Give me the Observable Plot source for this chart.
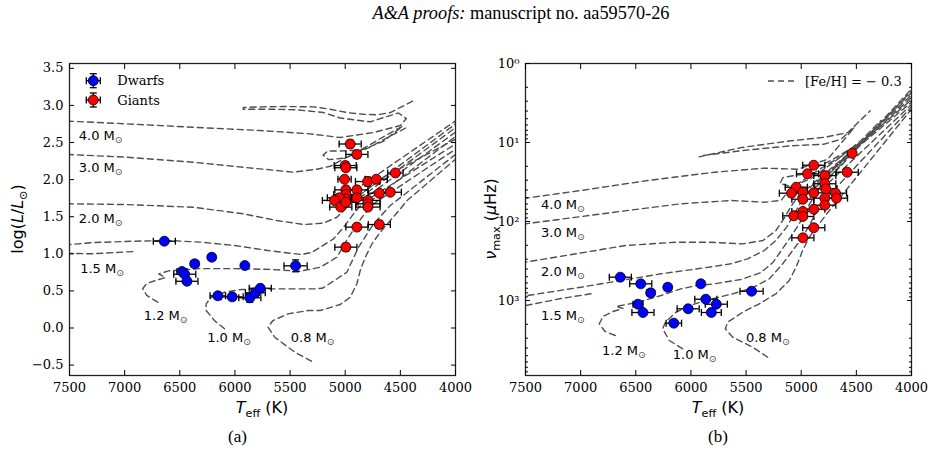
<!DOCTYPE html>
<html><head><meta charset="utf-8">
<script src="https://cdn.jsdelivr.net/npm/d3@7"></script>
<script src="https://cdn.jsdelivr.net/npm/@observablehq/plot@0.6"></script>
<style>
html,body{margin:0;padding:0;background:#fff;}
#page{position:relative;width:937px;height:455px;overflow:hidden;background:#fff;}
.title{position:absolute;top:3px;left:221px;width:600px;text-align:center;font-family:"Liberation Serif",serif;font-size:18.3px;line-height:20px;color:#000;white-space:nowrap;}
.cap{position:absolute;top:427px;font-family:"Liberation Serif",serif;font-size:17px;line-height:20px;color:#000;}
#left,#right{position:absolute;top:0;}
#left{left:0;} #right{left:468px;}
</style></head><body>
<div id="page">
  <div class="title"><i>A&amp;A proofs:</i> manuscript no. aa59570-26</div>
  <div id="left"></div><div id="right"></div>
  <div class="cap" style="left:228px">(a)</div>
  <div class="cap" style="left:708px">(b)</div>
</div>
<script>
// ---------------- data ----------------
const xTicks = [7500, 7000, 6500, 6000, 5500, 5000, 4500, 4000];
const yTicksL = [-0.5, 0, 0.5, 1, 1.5, 2, 2.5, 3, 3.5];
const yTicksR = [1, 10, 100, 1000];
const yTickLabelsR = ["10\u2070", "10\u00b9", "10\u00b2", "10\u00b3"];

// dwarfs (same stars in both panels)
const dwarfTeff    = [6640, 6210, 6365, 5910, 5450, 6480, 6455, 6435, 6155, 6025, 5865, 5815, 5770];
const dwarfTeffErr = [100, 30, 35, 15, 105, 45, 100, 100, 70, 100, 100, 90, 100];
const dwarfLogL    = [1.17, 0.954, 0.865, 0.842, 0.838, 0.761, 0.725, 0.63, 0.434, 0.42, 0.407, 0.474, 0.536];
const dwarfLogLErr = [0.02, 0.03, 0.03, 0.02, 0.08, 0.02, 0.03, 0.02, 0.02, 0.02, 0.06, 0.03, 0.03];
const dwarfNumax   = [507, 679, 800, 615, 763, 1114, 615, 1419, 1937, 1274, 963, 1419, 1114];

// giants, panel (a)
const giantTeffL    = [4955, 4894, 5000, 4994, 5006, 4797, 4718, 4545, 4994, 4894, 4994, 4994, 5052, 5097, 4894, 4691, 4591, 4794, 4794, 4794, 5040, 4994, 4894, 4691, 4994];
const giantTeffErrL = [100, 100, 100, 100, 60, 110, 100, 70, 100, 100, 110, 110, 110, 110, 100, 100, 100, 110, 110, 110, 100, 110, 100, 100, 100];
const giantLogL     = [2.48, 2.34, 2.19, 2.16, 2.005, 1.974, 2.005, 2.09, 1.862, 1.862, 1.80, 1.74, 1.755, 1.72, 1.755, 1.817, 1.83, 1.72, 1.674, 1.63, 1.63, 1.695, 1.36, 1.395, 1.09];
const giantLogLErr  = [0.05, 0.05, 0.05, 0.03, 0.03, 0.06, 0.03, 0.03, 0.03, 0.03, 0.03, 0.03, 0.03, 0.03, 0.03, 0.03, 0.03, 0.03, 0.03, 0.03, 0.03, 0.03, 0.03, 0.05, 0.05];

// giants, panel (b)
const giantTeffR    = [4538, 4886, 4943, 4786, 4583, 5045, 4786, 4777, 5088, 4985, 4886, 4985, 4786, 4689, 4680, 4786, 4886, 4985, 5067, 4985, 4886, 4985];
const giantTeffErrR = [0, 100, 100, 100, 100, 100, 100, 100, 110, 100, 100, 100, 100, 100, 100, 100, 100, 100, 100, 100, 100, 100];
const giantNumax    = [13.7, 19.4, 24.9, 26.2, 23.8, 36.8, 33.3, 38.6, 43.8, 42.6, 43.4, 52.2, 50.7, 43.8, 50.7, 62.2, 69.9, 74.7, 84.7, 86.4, 120, 161];

// evolutionary tracks, panel (a): [Teff, logL]
const trkL_08 = [[5306,-0.447],[5457,-0.326],[5639,-0.124],[5700,0.011],[5655,0.101],[5518,0.191],[5336,0.236],[5227,0.236],[5045,0.317],[4955,0.415],[4894,0.596],[4864,0.775],[4818,0.954],[4757,1.135],[4682,1.291],[4591,1.449],[4500,1.606],[4439,1.718],[4000,2.275]];
const trkL_10 = [[6094,-0.01],[6185,0.10],[6261,0.236],[6261,0.326],[6215,0.415],[6094,0.482],[5943,0.519],[5639,0.528],[5276,0.528],[5209,0.535],[5166,0.573],[4985,0.752],[4879,1.089],[4743,1.404],[4591,1.651],[4000,2.34]];
const trkL_12 = [[6700,0.348],[6800,0.44],[6836,0.53],[6800,0.60],[6700,0.65],[6630,0.68],[6690,0.73],[6600,0.77],[6318,0.80],[6000,0.80],[5682,0.79],[5409,0.765],[5227,0.819],[5075,0.954],[4970,1.224],[4848,1.493],[4743,1.674],[4000,2.41]];
const trkL_15 = [[6927,1.03],[7300,1.0],[7650,1.01],[7650,1.12],[7500,1.124],[7276,1.152],[6912,1.17],[6609,1.18],[6306,1.157],[6003,1.112],[5700,1.044],[5397,0.99],[5300,1.02],[5227,1.089],[5106,1.202],[5015,1.358],[4924,1.539],[4833,1.695],[4000,2.48]];
const trkL_20 = [[7700,1.68],[7500,1.674],[6985,1.664],[6379,1.628],[5924,1.539],[5621,1.449],[5379,1.395],[5197,1.413],[5075,1.493],[4985,1.628],[4894,1.763],[4773,1.898],[4652,2.032],[4000,2.545]];
const trkL_30 = [[7700,2.345],[7500,2.338],[6985,2.302],[6379,2.235],[5924,2.167],[5470,2.10],[5257,2.14],[5136,2.18],[5050,2.25],[4950,2.33],[4800,2.45],[4650,2.58],[4480,2.72],[4650,2.52],[4850,2.40],[5050,2.385],[5160,2.385],[5200,2.33],[5150,2.27],[5000,2.29],[4800,2.42],[4600,2.58],[4420,2.72]];
const trkL_40 = [[7700,2.80],[7500,2.787],[6985,2.752],[6379,2.706],[5773,2.662],[5318,2.617],[5045,2.567],[4745,2.635],[4500,2.729],[4445,2.823],[4518,2.898],[4652,2.837],[4773,2.779],[5045,2.83],[5197,2.904],[5439,2.941],[5682,2.949],[5924,2.949],[5924,2.972],[5745,2.981],[5564,2.985],[5291,2.981],[5136,2.949],[4985,2.904],[4833,2.881],[4712,2.873],[4591,2.904],[4470,2.995],[4364,3.075]];
const agbL_08 = [[4780,1.70],[4000,2.58]];
const agbL_10 = [[4850,1.72],[4000,2.64]];
const agbL_12 = [[4870,1.75],[4000,2.70]];
const agbL_15 = [[4880,1.78],[4000,2.75]];
const agbL_20 = [[4920,1.85],[4000,2.79]];

// evolutionary tracks, panel (b): [Teff, numax]
const trkR_08 = [[5304,5224],[5440,3899],[5621,2917],[5688,2281],[5667,1882],[5531,1406],[5380,1101],[5229,823],[5108,558],[5047,379],[4987,233],[4927,158],[4836,107],[4745,72.6],[4669,54.2],[4000,3.78]];
const trkR_10 = [[6075,4085],[6196,3208],[6256,2281],[6232,1882],[6135,1406],[5984,1124],[5803,951],[5621,823],[5440,690],[5289,531],[5168,343],[5077,233],[4987,158],[4911,102],[4839,65.9],[4775,51.2],[4000,3.55]];
const trkR_12 = [[6686,2775],[6779,2466],[6831,1972],[6797,1594],[6707,1377],[6616,1262],[6679,1191],[6589,1124],[6480,1051],[6271,864],[6090,711],[5939,646],[5788,615],[5546,542],[5365,442],[5256,330],[5174,226],[5093,155],[5011,103],[4948,68.4],[4884,48.3],[4000,3.31]];
const trkR_15 = [[6906,823],[7178,944],[7495,1156],[7631,1191],[7631,839],[7480,864],[6997,679],[6634,558],[6271,459],[5939,397],[5637,343],[5485,297],[5335,233],[5229,174],[5129,116],[5056,76.9],[4984,51.2],[4911,36.1],[4000,3.09]];
const trkR_20 = [[7631,345],[7500,327],[7042,256],[6589,201],[6135,183],[5833,183],[5531,192],[5347,174],[5229,130],[5156,91.6],[5093,64.6],[5029,48.3],[4000,2.88]];
const trkR_30 = [[7700,113],[7500,107],[6695,76.3],[6090,59.7],[5637,54.2],[5335,57.0],[5183,54.2],[5123,42.6],[5002,31.2],[4821,21.3],[4639,15.0],[4476,10.3],[4730,16.9],[5002,25.4],[5165,27.7],[5192,33.0],[5093,36.1],[4911,28.6],[4685,16.9],[4458,9.44],[4277,5.27]];
const trkR_40 = [[7700,53],[7500,50.7],[6997,40.5],[6392,30.3],[5788,23.8],[5335,21.1],[5032,21.8],[4760,16.3],[4519,6.46],[4639,9.08],[4791,10.5],[5093,11.0],[5546,12.7],[5909,14.7],[5924,15.2],[5546,11.6],[5093,9.5],[4791,8.6],[4579,7.5],[4374,3.97]];
const agbR_08 = [[4780,27],[4000,2.69]];
const agbR_10 = [[4850,32],[4000,2.51]];
const agbR_12 = [[4870,37],[4000,2.34]];
const agbR_15 = [[4880,45],[4000,2.21]];
const agbR_20 = [[4920,50],[4000,2.11]];

// mass labels
const massLabels = ["4.0 M\u2299", "3.0 M\u2299", "2.0 M\u2299", "1.5 M\u2299", "1.2 M\u2299", "1.0 M\u2299", "0.8 M\u2299"];
const massTeffL  = [7416, 7416, 7416, 7403, 6827, 6252, 5494];
const massLogL   = [2.594, 2.159, 1.471, 0.798, 0.168, -0.131, -0.131];
const massTeffR  = [7359, 7359, 7359, 7359, 6806, 6165, 5501];
const massNumax  = [61.5, 139, 438, 1549, 4295, 4865, 2965];

// ---------------- build tables ----------------
const tracksL = [];
[["0.8",trkL_08],["1.0",trkL_10],["1.2",trkL_12],["1.5",trkL_15],["2.0",trkL_20],["3.0",trkL_30],["4.0",trkL_40],
 ["a0.8",agbL_08],["a1.0",agbL_10],["a1.2",agbL_12],["a1.5",agbL_15],["a2.0",agbL_20]]
  .forEach(([id, arr]) => arr.forEach(([T, v]) => tracksL.push({id, T, v})));
const tracksR = [];
[["0.8",trkR_08],["1.0",trkR_10],["1.2",trkR_12],["1.5",trkR_15],["2.0",trkR_20],["3.0",trkR_30],["4.0",trkR_40],
 ["a0.8",agbR_08],["a1.0",agbR_10],["a1.2",agbR_12],["a1.5",agbR_15],["a2.0",agbR_20]]
  .forEach(([id, arr]) => arr.forEach(([T, v]) => tracksR.push({id, T, v})));

const dwarfsL = dwarfTeff.map((T, i) => ({T, eT: dwarfTeffErr[i], v: dwarfLogL[i], ev: dwarfLogLErr[i]}));
const giantsL = giantTeffL.map((T, i) => ({T, eT: giantTeffErrL[i], v: giantLogL[i], ev: giantLogLErr[i]}));
const dwarfsR = dwarfTeff.map((T, i) => ({T, eT: dwarfTeffErr[i], v: dwarfNumax[i], ev: 0}));
const giantsR = giantTeffR.map((T, i) => ({T, eT: giantTeffErrR[i], v: giantNumax[i], ev: 0}));
const massL = massLabels.map((label, i) => ({label, T: massTeffL[i], v: massLogL[i]}));
const massR = massLabels.map((label, i) => ({label, T: massTeffR[i], v: massNumax[i]}));

// ---------------- helpers ----------------
const vCap = {draw(ctx, size) { const h = Math.sqrt(size / Math.PI); ctx.moveTo(0, -h); ctx.lineTo(0, h); }};
const hCap = {draw(ctx, size) { const h = Math.sqrt(size / Math.PI); ctx.moveTo(-h, 0); ctx.lineTo(h, 0); }};

function errorMarks(data, fill) {
  const withX = data.filter(d => d.eT > 0);
  const withY = data.filter(d => d.ev > 0);
  const s = {stroke: "#000", strokeWidth: 1.3};
  return [
    Plot.ruleY(withX, {y: "v", x1: d => d.T - d.eT, x2: d => d.T + d.eT, ...s}),
    Plot.dot(withX, {x: d => d.T - d.eT, y: "v", symbol: vCap, r: 3.5, fill: "none", ...s}),
    Plot.dot(withX, {x: d => d.T + d.eT, y: "v", symbol: vCap, r: 3.5, fill: "none", ...s}),
    Plot.ruleX(withY, {x: "T", y1: d => d.v - d.ev, y2: d => d.v + d.ev, ...s}),
    Plot.dot(withY, {x: "T", y: d => d.v - d.ev, symbol: hCap, r: 3.5, fill: "none", ...s}),
    Plot.dot(withY, {x: "T", y: d => d.v + d.ev, symbol: hCap, r: 3.5, fill: "none", ...s}),
    Plot.dot(data, {x: "T", y: "v", r: 5, fill, stroke: "#000", strokeWidth: 0.8})
  ];
}

const trackStyle = {x: "T", y: "v", z: "id", stroke: "#4f4f4f", strokeWidth: 1.4, strokeDasharray: "6,4", clip: true};
const NS = "http://www.w3.org/2000/svg";
function el(parent, tag, attrs, text) {
  const e = document.createElementNS(NS, tag);
  for (const k in attrs) e.setAttribute(k, attrs[k]);
  if (text != null) e.textContent = text;
  parent.appendChild(e);
  return e;
}
function richLabel(svg, x, y, rotate, parts, size) {
  const t = el(svg, "text", {transform: `translate(${x},${y}) rotate(${rotate})`, "text-anchor": "middle",
    "font-family": "DejaVu Sans", "font-size": size, fill: "#000"});
  let shift = 0;
  for (const p of parts) {
    const a = {};
    if (p.i) a["font-style"] = "italic";
    const target = p.sub ? 4 : 0;
    if (target !== shift) { a.dy = target - shift; shift = target; }
    if (p.sub) a["font-size"] = size * 0.7;
    el(t, "tspan", a, p.t);
  }
}
function solarSubscripts(svg) {
  svg.querySelectorAll("text").forEach(t => {
    const s = t.textContent;
    if (s.endsWith("M\u2299")) {
      t.textContent = s.slice(0, -1);
      el(t, "tspan", {dy: 3, "font-size": 9.5, fill: "#444"}, "\u2299");
    }
  });
}
function legendEntry(svg, x, y, color, label) {
  const s = {stroke: "#000", "stroke-width": 1.3};
  el(svg, "line", {x1: x - 7, x2: x + 7, y1: y, y2: y, ...s});
  el(svg, "line", {x1: x, x2: x, y1: y - 7, y2: y + 7, ...s});
  el(svg, "line", {x1: x - 7, x2: x - 7, y1: y - 3.5, y2: y + 3.5, ...s});
  el(svg, "line", {x1: x + 7, x2: x + 7, y1: y - 3.5, y2: y + 3.5, ...s});
  el(svg, "line", {x1: x - 3.5, x2: x + 3.5, y1: y - 7, y2: y - 7, ...s});
  el(svg, "line", {x1: x - 3.5, x2: x + 3.5, y1: y + 7, y2: y + 7, ...s});
  el(svg, "circle", {cx: x, cy: y, r: 5, fill: color, stroke: "#000", "stroke-width": 0.8});
  el(svg, "text", {x: x + 24, y: y, dy: "0.35em", "text-anchor": "start", "font-family": "DejaVu Serif", "font-size": 13, fill: "#000"}, label);
}

const baseStyle = {fontFamily: "DejaVu Serif", fontSize: "13px", color: "#000", background: "transparent", overflow: "visible"};
const textStyle = {textAnchor: "start", fontFamily: "DejaVu Sans", fontSize: 13, fill: "#000"};

function axes(yTicks, yFormat, minor) {
  const m = [
    Plot.frame({stroke: "#222", strokeWidth: 1.3}),
    Plot.axisX({ticks: xTicks, tickSize: 0, tickPadding: 7, tickFormat: d => String(d), label: null}),
    Plot.axisX({ticks: xTicks, tickSize: -5, fill: "none", label: null}),
    Plot.axisX({ticks: xTicks, anchor: "top", tickSize: -5, fill: "none", label: null}),
    Plot.axisY({ticks: yTicks, tickSize: 0, tickPadding: 6, tickFormat: yFormat, label: null}),
    Plot.axisY({ticks: yTicks, tickSize: -5, fill: "none", label: null}),
    Plot.axisY({ticks: yTicks, anchor: "right", tickSize: -5, fill: "none", label: null})
  ];
  if (minor) {
    m.push(Plot.axisY({ticks: minor, tickSize: -3, fill: "none", label: null}));
    m.push(Plot.axisY({ticks: minor, anchor: "right", tickSize: -3, fill: "none", label: null}));
  }
  return m;
}

// ---------------- panel (a) ----------------
const left = Plot.plot({
  width: 490, height: 455, marginLeft: 69, marginRight: 35, marginTop: 63, marginBottom: 80,
  style: baseStyle,
  x: {domain: [7500, 4000]},
  y: {domain: [-0.64, 3.565]},
  marks: [
    Plot.line(tracksL, trackStyle),
    Plot.text(massL, {x: "T", y: "v", text: "label", ...textStyle}),
    ...errorMarks(dwarfsL, "#0000ff"),
    ...errorMarks(giantsL, "#ff0000"),
    ...axes(yTicksL, d3.format(".1f"), null)
  ]
});
solarSubscripts(left);
legendEntry(left, 93.3, 80.7, "#0000ff", "Dwarfs");
legendEntry(left, 93.3, 100, "#ff0000", "Giants");
richLabel(left, 262, 413, 0, [{t: "T", i: 1}, {t: "eff", sub: 1}, {t: " (K)"}], 16);
richLabel(left, 23, 219, -90, [{t: "log("}, {t: "L", i: 1}, {t: "/"}, {t: "L", i: 1}, {t: "\u2299", sub: 1}, {t: ")"}], 16);
document.getElementById("left").appendChild(left);

// ---------------- panel (b) ----------------
const minorR = [];
for (const p of [1, 10, 100, 1000]) for (let k = 2; k <= 9; k++) if (k * p < 8900) minorR.push(k * p);
const right = Plot.plot({
  width: 469, height: 455, marginLeft: 57, marginRight: 26, marginTop: 63, marginBottom: 80,
  style: baseStyle,
  x: {domain: [7500, 4000]},
  y: {type: "log", domain: [1, 8900], reverse: true},
  marks: [
    Plot.line(tracksR, trackStyle),
    Plot.text(massR, {x: "T", y: "v", text: "label", ...textStyle}),
    ...errorMarks(dwarfsR, "#0000ff"),
    ...errorMarks(giantsR, "#ff0000"),
    ...axes(yTicksR, d => yTickLabelsR[yTicksR.indexOf(d)], minorR)
  ]
});
solarSubscripts(right);
el(right, "line", {x1: 300, x2: 327, y1: 81, y2: 81, stroke: "#4f4f4f", "stroke-width": 1.4, "stroke-dasharray": "6,4"});
el(right, "text", {x: 337, y: 81, dy: "0.35em", "text-anchor": "start", "font-family": "DejaVu Serif", "font-size": 13, fill: "#000"}, "[Fe/H] = \u2212 0.3");
richLabel(right, 250, 413, 0, [{t: "T", i: 1}, {t: "eff", sub: 1}, {t: " (K)"}], 16);
richLabel(right, 28, 219, -90, [{t: "\u03bd", i: 1}, {t: "max", sub: 1}, {t: " ("}, {t: "\u03bc", i: 1}, {t: "Hz)"}], 16);
document.getElementById("right").appendChild(right);
</script>
</body></html>
